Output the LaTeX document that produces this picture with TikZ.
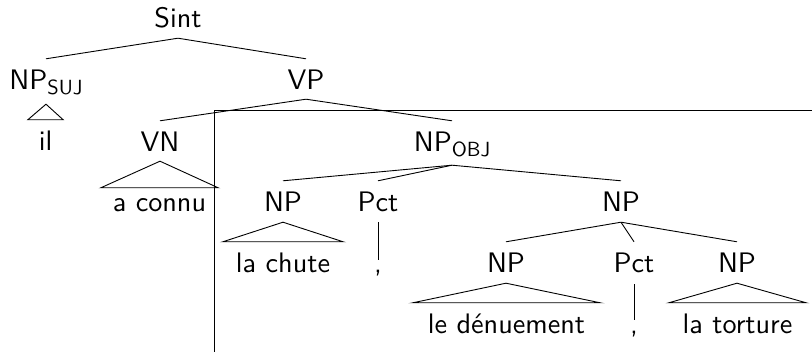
\documentclass[tikz,border=0pt]{standalone}
\usepackage{fontspec}
\setmainfont{lmsans10-regular.otf}
\newcommand{\gsub}[1]{\raisebox{-5pt}{\fontsize{20.5}{20}\selectfont #1}}
\begin{document}
\begin{tikzpicture}[x=1pt,y=-1pt,
  every node/.style={font=\fontsize{28.2}{30}\selectfont},
  cat/.style={anchor=base,inner sep=0pt,text height=31pt,text depth=#1},
  cat/.default=10pt,
  leaf/.style 2 args={anchor=base,inner sep=0pt,minimum width=#2,text height=#1,text depth=0pt},
  edge/.style={line width=0.9pt},
]
\useasboundingbox (0,0) rectangle (812,352);
% box
\coordinate (boxtl) at (214.7,110.7);
\coordinate (boxtr) at (812,110.7);
\coordinate (boxbl) at (214.7,352);
\draw[edge] (boxtr) -- (boxtl) -- (boxbl);
% categories
\node[cat] (sint) at (178,28) {Sint};
\node[cat=14pt] (npsuj) at (46,90) {NP\gsub{SUJ}};
\node[cat=9pt] (vp) at (306,90) {VP};
\node[cat=9pt] (vn) at (160,152) {VN};
\node[cat=13pt] (npobj) at (452,152) {NP\gsub{OBJ}};
\node[cat] (np1) at (283,212) {NP};
\node[cat] (pct1) at (378,212) {Pct};
\node[cat] (np2) at (621,212) {NP};
\node[cat] (np3) at (506,273) {NP};
\node[cat=11pt] (pct2) at (634,273) {Pct};
\node[cat] (np4) at (737,273) {NP};
% leaves
\node[leaf={31pt}{35pt}] (il) at (45.5,151) {il};
\node[leaf={24pt}{117pt}] (aconnu) at (159.5,212) {a connu};
\node[leaf={31pt}{120pt}] (lachute) at (283,273) {la chute};
\node[leaf={13pt}{0pt}] (comma1) at (378,273) {,};
\node[leaf={31pt}{187pt}] (denue) at (506.5,334) {le dénuement};
\node[leaf={14pt}{0pt}] (comma2) at (634,334) {,};
\node[leaf={31pt}{137pt}] (torture) at (737.5,334) {la torture};
% edges
\draw[edge] (sint.south) -- (npsuj.north);
\draw[edge] (sint.south) -- (vp.north);
\draw[edge] (vp.south) -- (vn.north);
\draw[edge] (vp.south) -- (npobj.north);
\draw[edge] (npobj.south) -- (np1.north);
\draw[edge] (npobj.south) -- (pct1.north);
\draw[edge] (npobj.south) -- (np2.north);
\draw[edge] (np2.south) -- (np3.north);
\draw[edge] (np2.south) -- (pct2.north);
\draw[edge] (np2.south) -- (np4.north);
\draw[edge] (pct1.south) -- (comma1.north);
\draw[edge] (pct2.south) -- (comma2.north);
% triangles
\draw[edge] (npsuj.south) -- (il.north west) -- (il.north east) -- cycle;
\draw[edge] (vn.south) -- (aconnu.north west) -- (aconnu.north east) -- cycle;
\draw[edge] (np1.south) -- (lachute.north west) -- (lachute.north east) -- cycle;
\draw[edge] (np3.south) -- (denue.north west) -- (denue.north east) -- cycle;
\draw[edge] (np4.south) -- (torture.north west) -- (torture.north east) -- cycle;
\end{tikzpicture}
\end{document}
